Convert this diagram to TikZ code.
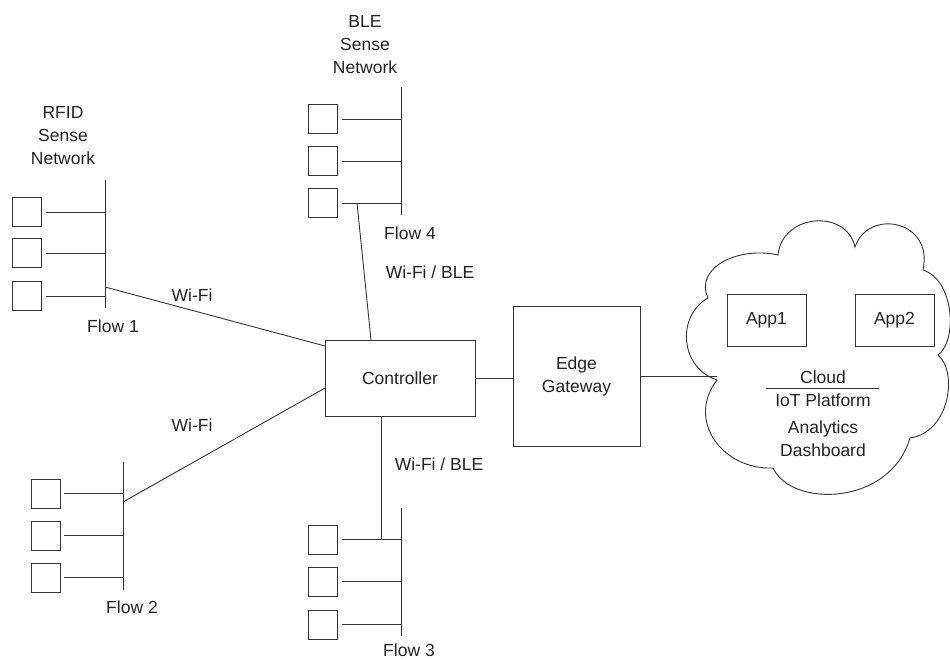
\documentclass[tikz,border=0pt]{standalone}
\usepackage{fontspec}
\setmainfont{Liberation Sans}
\definecolor{ln}{HTML}{333333}
\definecolor{tx}{HTML}{222222}
\tikzset{
  every node/.style={text=tx, font=\fontsize{17.5}{23}\selectfont},
  dev/.style={draw=ln, line width=0.9pt, minimum width=29pt, minimum height=29pt, inner sep=0pt},
  box/.style={draw=ln, line width=0.9pt, inner sep=0pt, align=center},
  wire/.style={draw=ln, line width=0.9pt},
  lbl/.style={inner sep=0pt, align=center},
}
\begin{document}
\begin{tikzpicture}[x=1pt, y=-1pt]
\useasboundingbox (0,0) rectangle (950,660);

% ---------- RFID network ----------
\node[lbl] (rfidT) at (63,136) {RFID\\Sense\\Network};
\coordinate (rbT) at (105,180); \coordinate (rbB) at (105,308);
\node[dev] (r1) at (27,212) {};
\node[dev] (r2) at (27,253) {};
\node[dev] (r3) at (27,296) {};
\draw[wire] (rbT) -- (rbB);
\foreach \n in {r1,r2,r3} \draw[wire, shorten <=4pt] (\n.east) -- (\n.east -| rbT);
\node[lbl] (f1) at (113,326) {Flow 1};
\coordinate (rtap) at (105,287);

% ---------- BLE network ----------
\node[lbl] (bleT) at (365,45) {BLE\\Sense\\Network};
\coordinate (bbT) at (401,87); \coordinate (bbB) at (401,215);
\node[dev] (b1) at (323,119) {};
\node[dev] (b2) at (323,161) {};
\node[dev] (b3) at (323,203) {};
\draw[wire] (bbT) -- (bbB);
\foreach \n in {b1,b2,b3} \draw[wire, shorten <=4pt] (\n.east) -- (\n.east -| bbT);
\node[lbl] (f4) at (410,233) {Flow 4};
\coordinate (btap) at (357,203);

% ---------- Flow 2 network ----------
\coordinate (pbT) at (123,462); \coordinate (pbB) at (123,590);
\node[dev] (p1) at (45.5,493.5) {};
\node[dev] (p2) at (45.5,535.5) {};
\node[dev] (p3) at (45.5,577.5) {};
\draw[wire] (pbT) -- (pbB);
\foreach \n in {p1,p2,p3} \draw[wire, shorten <=4pt] (\n.east) -- (\n.east -| pbT);
\node[lbl] (f2) at (132,607) {Flow 2};
\coordinate (ptap) at (123,502);

% ---------- Flow 3 network ----------
\coordinate (qbT) at (401,508); \coordinate (qbB) at (401,636);
\node[dev] (q1) at (323,539.5) {};
\node[dev] (q2) at (323,581.5) {};
\node[dev] (q3) at (323,624.5) {};
\draw[wire] (qbT) -- (qbB);
\foreach \n in {q1,q2,q3} \draw[wire, shorten <=4pt] (\n.east) -- (\n.east -| qbT);
\node[lbl] (f3) at (409,650) {Flow 3};
\coordinate (qtap) at (381,539.5);

% ---------- Controller and gateway ----------
\node[box, minimum width=150pt, minimum height=76pt] (ctrl) at (400,378) {Controller};
\node[box, minimum width=127pt, minimum height=140pt] (gw) at (576.5,376) {Edge\\Gateway};

\coordinate (cA) at (325,346);
\coordinate (cB) at (325,388);
\coordinate (cT) at (371,340);
\coordinate (cD) at (381,416);

\draw[wire] (rtap) -- (cA);
\draw[wire] (ptap) -- (cB);
\draw[wire] (btap) -- (cT);
\draw[wire] (cD) -- (qtap);
\draw[wire] (ctrl.east) -- (ctrl.east -| gw.west);

\node[lbl] (w1) at (192,295) {Wi-Fi};
\node[lbl] (w2) at (192,425) {Wi-Fi};
\node[lbl] (w3) at (430,272) {Wi-Fi / BLE};
\node[lbl] (w4) at (439,464) {Wi-Fi / BLE};

% ---------- Cloud ----------
\coordinate (k1) at (708,298);
\coordinate (k2) at (778,255);
\coordinate (k3) at (855,247);
\coordinate (k4) at (923,270);
\coordinate (k5) at (938,355);
\coordinate (k6) at (910,438);
\coordinate (k7) at (773,468);
\coordinate (k8) at (717,380);
\draw[wire, fill=white]
  (k1) .. controls (694,268) and (738,246) .. (k2)
       .. controls (782,214) and (846,208) .. (k3)
       .. controls (868,208) and (934,220) .. (k4)
       .. controls (954,280) and (958,340) .. (k5)
       .. controls (958,372) and (950,432) .. (k6)
       .. controls (890,506) and (792,508) .. (k7)
       .. controls (722,470) and (686,420) .. (k8)
       .. controls (680,368) and (676,316) .. cycle;
\draw[wire] (gw.east) -- (gw.east -| k8);

\node[box, minimum width=79pt, minimum height=52pt] (app1) at (766.5,320) {App1};
\node[box, minimum width=79pt, minimum height=52pt] (app2) at (894.5,320) {App2};
\node[lbl] (cl) at (823,377) {Cloud};
\coordinate (sl) at (766,388); \coordinate (sr) at (879,388);
\draw[wire] (sl) -- (sr);
\node[lbl] (iot) at (823,400) {IoT Platform};
\node[lbl] (an) at (823,439) {Analytics\\Dashboard};
\end{tikzpicture}
\end{document}
